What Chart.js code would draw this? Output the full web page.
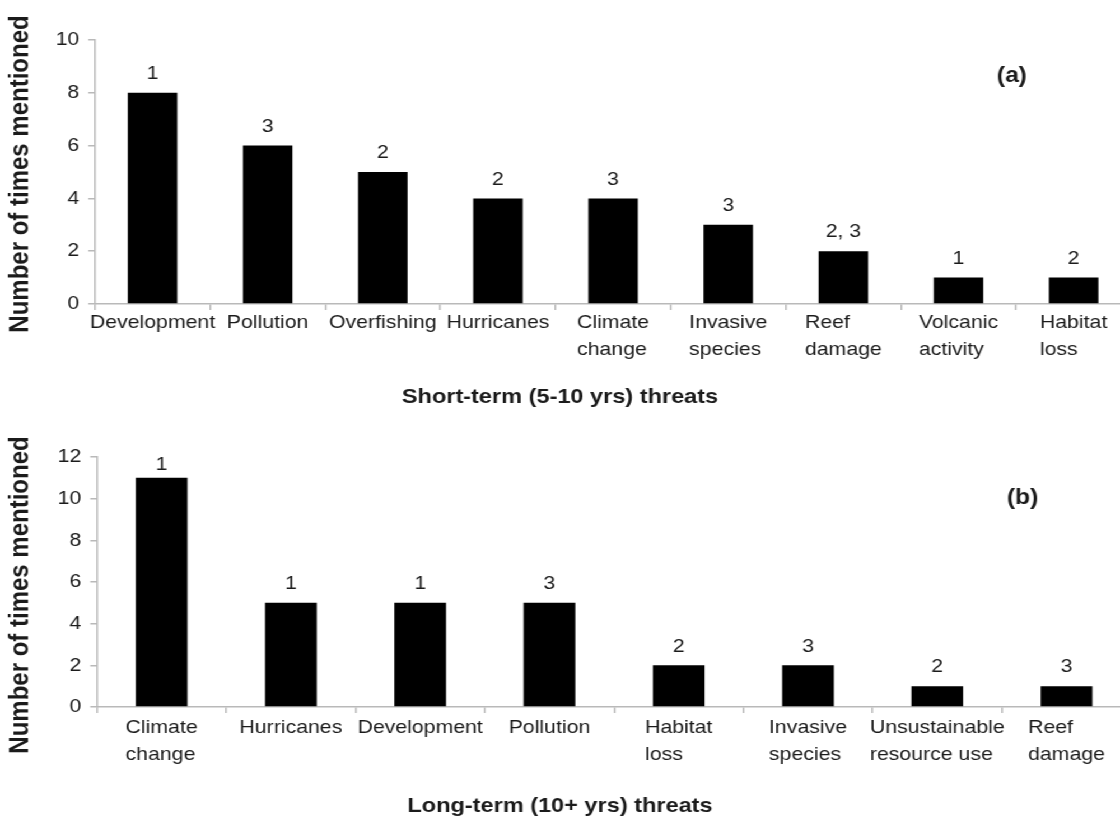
<!DOCTYPE html>
<html>
<head>
<meta charset="utf-8">
<script src="https://cdn.jsdelivr.net/npm/chart.js@4.4.1/dist/chart.umd.min.js"></script>
<style>
  html, body { margin: 0; background: #fff; overflow: hidden; width: 1120px; height: 820px; }
  /* the source figure is stretched sideways, so the whole drawing is too */
  #wrap { width: 1010px; transform: scaleX(1.12); transform-origin: 0 0; }
  canvas { display: block; }
</style>
</head>
<body>
<div id="wrap">
  <canvas id="short" width="1010" height="410"></canvas>
  <canvas id="long" width="1010" height="410"></canvas>
</div>
<script>
"use strict";

const shortLabels = ["Development", "Pollution", "Overfishing", "Hurricanes",
  ["Climate", "change"], ["Invasive", "species"], ["Reef", "damage"],
  ["Volcanic", "activity"], ["Habitat", "loss"]];
const shortCounts = [8, 6, 5, 4, 4, 3, 2, 1, 1];
const shortNotes = ["1", "3", "2", "2", "3", "3", "2, 3", "1", "2"];

const longLabels = [["Climate", "change"], "Hurricanes", "Development", "Pollution",
  ["Habitat", "loss"], ["Invasive", "species"], ["Unsustainable", "resource use"],
  ["Reef", "damage"]];
const longCounts = [11, 5, 5, 5, 2, 2, 1, 1];
const longNotes = ["1", "1", "1", "3", "2", "3", "2", "3"];

const FAMILY = '"Liberation Sans", Arial, Helvetica, sans-serif';
const INK = "#1b1b1b";
const AXIS = "#b9b9b9";

Chart.defaults.font.family = FAMILY;
Chart.defaults.color = INK;

/* category names (lines left-aligned in a centred block, as in the source),
   the small notes over each bar, axis titles and the panel letter */
const decor = {
  id: "decor",
  afterDraw(chart, args, o) {
    const { ctx, chartArea: a } = chart;
    const xs = chart.scales.x;
    ctx.save();
    ctx.fillStyle = INK;
    ctx.textBaseline = "middle";

    ctx.font = `19px ${FAMILY}`;
    ctx.textAlign = "left";
    chart.data.labels.forEach((lab, i) => {
      const lines = [].concat(lab);
      const w = Math.max(...lines.map((l) => ctx.measureText(l).width));
      const cx = xs.getPixelForValue(i);
      lines.forEach((l, j) =>
        ctx.fillText(l, cx - w / 2, a.bottom + o.labelGap + j * 27));
    });

    ctx.textAlign = "center";
    chart.getDatasetMeta(0).data.forEach((bar, i) => {
      ctx.fillText(o.notes[i], bar.x, Math.max(bar.y - 19, a.top + 8));
    });

    ctx.font = `bold 21px ${FAMILY}`;
    ctx.fillText(o.xTitle, 500, o.xTitleY);

    ctx.font = `bold 22px ${FAMILY}`;
    ctx.fillText(o.panel, o.panelX, o.panelY);

    ctx.translate(o.yTitleX, o.yTitleY);
    ctx.rotate(-Math.PI / 2);
    ctx.font = `bold 24px ${FAMILY}`;
    ctx.fillText("Number of times mentioned", 0, 0);
    ctx.restore();
  },
};

function barChart(id, labels, counts, p) {
  return new Chart(document.getElementById(id), {
    type: "bar",
    data: { labels, datasets: [{ data: counts, backgroundColor: "#000",
      borderWidth: 0, barPercentage: p.bar, categoryPercentage: 1 }] },
    options: {
      responsive: false, animation: false,
      layout: { padding: { top: p.top, left: 0, right: 0, bottom: 0 } },
      plugins: {
        legend: { display: false }, tooltip: { enabled: false },
        decor: p.decor,
      },
      scales: {
        x: {
          afterFit: (s) => { s.height = p.xHeight; },
          ticks: { display: false },
          grid: { drawOnChartArea: false, tickLength: 6, color: AXIS, lineWidth: 1.5 },
          border: { color: AXIS, width: 1.5 },
        },
        y: {
          min: 0, max: p.max,
          afterFit: (s) => { s.width = p.axisLeft; },
          ticks: { stepSize: 2, padding: 8, font: { size: 19 }, color: INK },
          grid: { drawOnChartArea: false, tickLength: 6, color: AXIS, lineWidth: 1.5 },
          border: { color: AXIS, width: 1.5 },
        },
      },
    },
    plugins: [decor],
  });
}

barChart("short", shortLabels, shortCounts, {
  bar: 0.43, top: 40, xHeight: 106, axisLeft: 84.8, max: 10,
  decor: { notes: shortNotes, labelGap: 19, xTitle: "Short-term (5-10 yrs) threats",
    xTitleY: 397, panel: "(a)", panelX: 903.5, panelY: 76,
    yTitleX: 18.7, yTitleY: 174 },
});

barChart("long", longLabels, longCounts, {
  bar: 0.40, top: 47, xHeight: 113, axisLeft: 86.6, max: 12,
  decor: { notes: longNotes, labelGap: 21, xTitle: "Long-term (10+ yrs) threats",
    xTitleY: 396, panel: "(b)", panelX: 913, panelY: 88,
    yTitleX: 17.9, yTitleY: 185 },
});
</script>
</body>
</html>
